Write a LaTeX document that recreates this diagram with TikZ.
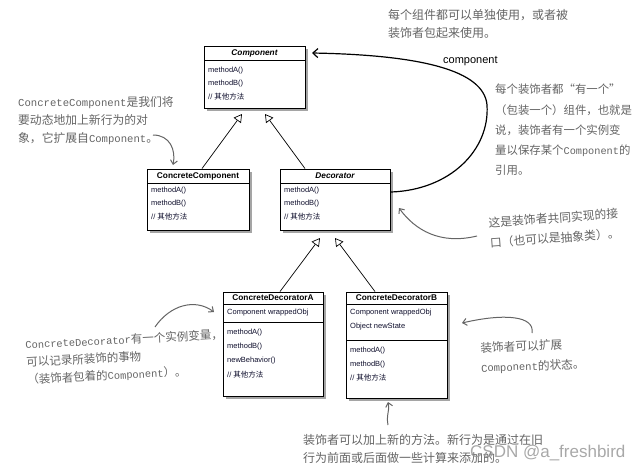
\documentclass[tikz,border=0pt]{standalone}
\usepackage{fontspec}
\setmainfont{Liberation Sans}
\newfontfamily\cjk{Noto Sans CJK SC}
\newfontfamily\mono[Scale=0.9]{Liberation Mono}
\usetikzlibrary{arrows.meta,shadows}
\definecolor{ann}{RGB}{100,100,100}
\definecolor{boxtxt}{RGB}{15,15,45}
\begin{document}
\begin{tikzpicture}[x=1pt,y=-1pt,
 umlbox/.style={draw, line width=0.9pt, fill=white, inner sep=0pt,
   drop shadow={shadow xshift=2.5pt,shadow yshift=-2.5pt,fill=black!70,opacity=0.5}},
 title/.style={font=\fontsize{8.3}{10}\selectfont\bfseries, inner sep=0pt},
 item/.style={font=\fontsize{7.5}{9}\selectfont, anchor=west, inner sep=0pt, text=boxtxt},
 divider/.style={line width=0.7pt},
 inh/.style={line width=0.7pt, -{Triangle[open,length=8pt,width=9pt,fill=white]}},
 annot/.style={text=ann, anchor=north west, align=left, inner sep=0pt},
 note/.style={draw=ann, line width=1pt, -{Straight Barb[length=4pt,width=7pt]}},
]
\useasboundingbox (0,0) rectangle (640,471);

% ---- Component
\node[umlbox, minimum width=101pt, minimum height=62pt] (comp) at (254.5,77) {};
\node[title] (compT) at (254.5,53) {\itshape Component};
\draw[divider] (204,60) -- (305,60);
\node[item] (compA) at (208,71) {methodA()};
\node[item] (compB) at (208,84) {methodB()};
\node[item] (compC) at (208,97) {// {\cjk 其他方法}};

% ---- ConcreteComponent
\node[umlbox, minimum width=102pt, minimum height=61pt] (cc) at (198,199.5) {};
\node[title] (ccT) at (198,176) {ConcreteComponent};
\draw[divider] (147,183) -- (249,183);
\node[item] (ccA) at (151,191) {methodA()};
\node[item] (ccB) at (151,204) {methodB()};
\node[item] (ccC) at (151,217) {// {\cjk 其他方法}};

% ---- Decorator
\node[umlbox, minimum width=110pt, minimum height=61pt] (dec) at (335,199.5) {};
\node[title] (decT) at (335,176) {\itshape Decorator};
\draw[divider] (280,183) -- (390,183);
\node[item] (decA) at (284,191) {methodA()};
\node[item] (decB) at (284,204) {methodB()};
\node[item] (decC) at (284,217) {// {\cjk 其他方法}};

% ---- ConcreteDecoratorA
\node[umlbox, minimum width=100pt, minimum height=104pt] (cda) at (273,344) {};
\node[title] (cdaT) at (273,298) {ConcreteDecoratorA};
\draw[divider] (223,304) -- (323,304);
\node[item] (cdaF) at (227,313) {Component wrappedObj};
\draw[divider] (223,322) -- (323,322);
\node[item] (cdaA) at (227,333) {methodA()};
\node[item] (cdaB) at (227,347) {methodB()};
\node[item] (cdaN) at (227,361) {newBehavior()};
\node[item] (cdaC) at (227,375) {// {\cjk 其他方法}};

% ---- ConcreteDecoratorB
\node[umlbox, minimum width=101pt, minimum height=106pt] (cdb) at (396.5,345) {};
\node[title] (cdbT) at (396.5,298) {ConcreteDecoratorB};
\draw[divider] (346,304) -- (447,304);
\node[item] (cdbF) at (350,313) {Component wrappedObj};
\node[item] (cdbS) at (350,327) {Object newState};
\draw[divider] (346,340) -- (447,340);
\node[item] (cdbA) at (350,351) {methodA()};
\node[item] (cdbB) at (350,365) {methodB()};
\node[item] (cdbC) at (350,378) {// {\cjk 其他方法}};

% ---- inheritance arrows
\coordinate (t1) at (242,114);
\coordinate (t2) at (265,114);
\coordinate (t3) at (320,238);
\coordinate (t4) at (335,238);
\draw[inh] ([xshift=4pt]cc.north) -- (t1);
\draw[inh] ([xshift=-30pt]dec.north) -- (t2);
\draw[inh] ([xshift=7pt]cda.north) -- (t3);
\draw[inh] ([xshift=-21.5pt]cdb.north) -- (t4);

% ---- composition loop
\coordinate (ds) at (391,192);
\coordinate (ct) at (312,53);
\coordinate (loopR) at (487,105);
\draw[line width=1.2pt, -{Straight Barb[length=5pt,width=9pt]}]
  (ds) .. controls (450,190) and (490,150) .. (loopR)
       .. controls (484,70) and (420,55) .. (ct);
\node[font=\fontsize{11}{13}\selectfont, inner sep=0pt, anchor=west] (lbl) at (443,61) {component};

% ---- annotations
\node[annot, font=\cjk\fontsize{12}{18}\selectfont] (n1) at (388,9)
  {每个组件都可以单独使用，或者被\\装饰者包起来使用。};
\node[annot, font=\cjk\fontsize{11.8}{18}\selectfont] (n2) at (18,96)
  {{\mono ConcreteComponent}是我们将\\要动态地加上新行为的对\\象，它扩展自{\mono Component}。};
\node[annot, font=\cjk\fontsize{11.4}{20.2}\selectfont] (n3) at (495,84)
  {每个装饰者都“有一个”\\（包装一个）组件，也就是\\说，装饰者有一个实例变\\量以保存某个{\mono Component}的\\引用。};
\node[annot, font=\cjk\fontsize{11.8}{20}\selectfont, rotate=4] (n4) at (488,217)
  {这是装饰者共同实现的接\\口（也可以是抽象类）。};
\node[annot, font=\cjk\fontsize{11.7}{20}\selectfont, rotate=2] (n5) at (480,342)
  {装饰者可以扩展\\{\mono Component}的状态。};
\node[annot, font=\cjk\fontsize{11.5}{17.5}\selectfont, rotate=3] (n6) at (25,339)
  {{\mono ConcreteDecorator}有一个实例变量，\\可以记录所装饰的事物\\（装饰者包着的{\mono Component}）。};
\node[annot, font=\cjk\fontsize{12}{18}\selectfont] (n7) at (303,434)
  {装饰者可以加上新的方法。新行为是通过在旧\\行为前面或后面做一些计算来添加的。};

% ---- annotation arrows
\coordinate (a2s) at (153,135); \coordinate (a2e) at (173,165);
\draw[note] (a2s) .. controls (170,135) and (176,150) .. (a2e);
\coordinate (a4s) at (477,236); \coordinate (a4e) at (399,208);
\draw[note] (a4s) .. controls (440,245) and (415,230) .. (a4e);
\coordinate (a5s) at (532,333); \coordinate (a5e) at (462,323);
\draw[note] (a5s) .. controls (535,316) and (505,313) .. (a5e);
\coordinate (a6s) at (155,327); \coordinate (a6e) at (214,312);
\draw[note] (a6s) .. controls (170,305) and (195,298) .. (a6e);
\coordinate (a7s) at (388,425); \coordinate (a7e) at (388,402);
\draw[note] (a7s) .. controls (386,415) and (390,410) .. (a7e);

% ---- watermark
\node[font=\fontsize{17}{20}\selectfont, text=black!40, text opacity=0.85, anchor=west, inner sep=0pt] (wm) at (470,453) {CSDN @a\_freshbird};
\end{tikzpicture}
\end{document}
